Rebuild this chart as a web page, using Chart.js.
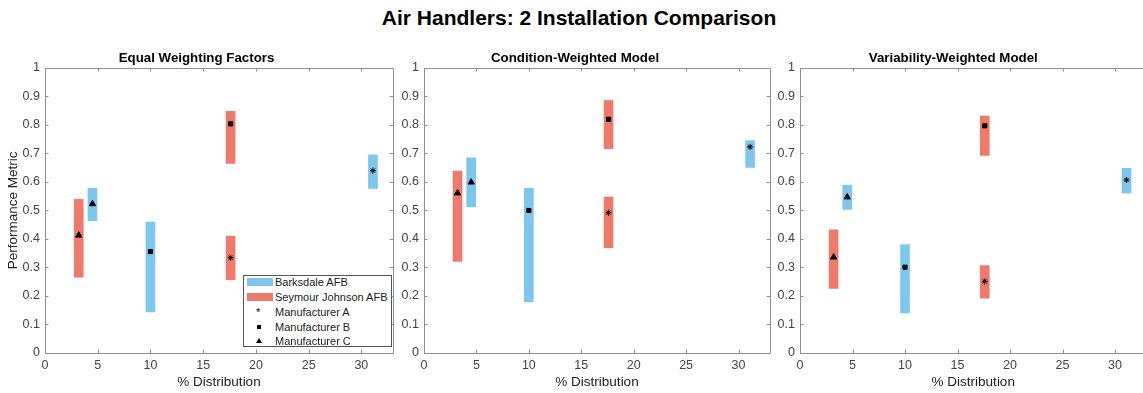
<!DOCTYPE html>
<html>
<head>
<meta charset="utf-8">
<script src="https://cdn.jsdelivr.net/npm/chart.js@4/dist/chart.umd.min.js"></script>
<style>
  html, body { margin: 0; padding: 0; background: #fff; overflow: hidden; width: 1143px; height: 393px; }
  body { position: relative; font-family: "Liberation Sans", Arial, Helvetica, sans-serif; }
  .panel { position: absolute; top: 40px; height: 353px; width: 400px; }
  #mainTitle { position: absolute; left: 0; width: 1158px; top: 6px; text-align: center; font-weight: bold; font-size: 21px; line-height: 24px; color: #000; }
  #legend { position: absolute; left: 243px; top: 275px; width: 147px; height: 70px; border: 1px solid #555; background: #fff; font-size: 11px; color: #222; z-index: 5; }
  .row { position: absolute; left: 0; height: 14px; line-height: 14px; width: 147px; }
  .row .lab { position: absolute; left: 31px; top: 0; white-space: nowrap; }
  .sw { position: absolute; left: 3px; top: 3px; width: 26px; height: 8px; }
  .mk { position: absolute; left: 16px; }
</style>
</head>
<body>
<div id="mainTitle">Air Handlers: 2 Installation Comparison</div>
<div class="panel" style="left:0px"><canvas id="c0"></canvas></div>
<div class="panel" style="left:380px"><canvas id="c1"></canvas></div>
<div class="panel" style="left:760px"><canvas id="c2"></canvas></div>
<div id="legend"></div>
<script>
// ---------------- DATA ----------------
const mainTitle = 'Air Handlers: 2 Installation Comparison';
const panelTitles = ['Equal Weighting Factors', 'Condition-Weighted Model', 'Variability-Weighted Model'];
const manufacturers = ['Manufacturer A', 'Manufacturer B', 'Manufacturer C'];
const installations = ['Barksdale AFB', 'Seymour Johnson AFB'];

// % Distribution for Manufacturer A, B, C at each installation
const barksdaleX = [31.1, 10.0, 4.5];
const seymourX   = [17.6, 17.6, 3.2];

// Equal Weighting Factors (A, B, C)
const eqBarksdaleLow  = [0.577, 0.144, 0.464];
const eqBarksdaleHigh = [0.695, 0.459, 0.578];
const eqBarksdaleMid  = [0.640, 0.356, 0.523];
const eqSeymourLow    = [0.257, 0.665, 0.266];
const eqSeymourHigh   = [0.410, 0.848, 0.539];
const eqSeymourMid    = [0.334, 0.804, 0.413];

// Condition-Weighted Model
const cwBarksdaleLow  = [0.651, 0.179, 0.513];
const cwBarksdaleHigh = [0.745, 0.578, 0.685];
const cwBarksdaleMid  = [0.723, 0.500, 0.599];
const cwSeymourLow    = [0.369, 0.717, 0.321];
const cwSeymourHigh   = [0.547, 0.886, 0.638];
const cwSeymourMid    = [0.492, 0.820, 0.561];

// Variability-Weighted Model
const vwBarksdaleLow  = [0.561, 0.141, 0.504];
const vwBarksdaleHigh = [0.648, 0.380, 0.588];
const vwBarksdaleMid  = [0.607, 0.301, 0.547];
const vwSeymourLow    = [0.192, 0.693, 0.227];
const vwSeymourHigh   = [0.307, 0.831, 0.432];
const vwSeymourMid    = [0.251, 0.797, 0.336];

const xTicks = [0, 5, 10, 15, 20, 25, 30];
const yTicks = [0, 0.1, 0.2, 0.3, 0.4, 0.5, 0.6, 0.7, 0.8, 0.9, 1];
const xLimits = [0, 33];
const yLimits = [0, 1];

// ---------------- STYLE ----------------
const FONT = '"Liberation Sans", Arial, Helvetica, sans-serif';
const BLUE = 'rgb(125,199,239)';
const RED = 'rgb(239,122,108)';
const AXIS = '#8f8f8f';
const TICKTXT = '#444444';
const markerStyles = ['star', 'rect', 'triangle'];
const markerRadius = [3, 2.9, 3.6];

const panels = [
  { bL: eqBarksdaleLow, bH: eqBarksdaleHigh, bM: eqBarksdaleMid, sL: eqSeymourLow, sH: eqSeymourHigh, sM: eqSeymourMid },
  { bL: cwBarksdaleLow, bH: cwBarksdaleHigh, bM: cwBarksdaleMid, sL: cwSeymourLow, sH: cwSeymourHigh, sM: cwSeymourMid },
  { bL: vwBarksdaleLow, bH: vwBarksdaleHigh, bM: vwBarksdaleMid, sL: vwSeymourLow, sH: vwSeymourHigh, sM: vwSeymourMid }
];
const layoutCfg = [
  { yWidth: 45, padRight: 7, yTitle: true },
  { yWidth: 44, padRight: 10, yTitle: false },
  { yWidth: 40, padRight: 13.5, yTitle: false }
];

const boxPlugin = {
  id: 'matlabBox',
  afterDatasetsDraw(chart) {
    const { ctx, chartArea: a, scales: { x, y } } = chart;
    ctx.save();
    ctx.strokeStyle = AXIS;
    ctx.lineWidth = 1;
    ctx.beginPath();
    ctx.rect(Math.round(a.left) + 0.5, Math.round(a.top) + 0.5, Math.round(a.right - a.left), Math.round(a.bottom - a.top));
    ctx.stroke();
    const tl = 3.5;
    ctx.beginPath();
    xTicks.forEach(v => {
      const px = Math.round(x.getPixelForValue(v)) + 0.5;
      ctx.moveTo(px, a.bottom); ctx.lineTo(px, a.bottom - tl);
      ctx.moveTo(px, a.top); ctx.lineTo(px, a.top + tl);
    });
    yTicks.forEach(v => {
      const py = Math.round(y.getPixelForValue(v)) + 0.5;
      ctx.moveTo(a.left, py); ctx.lineTo(a.left + tl, py);
      ctx.moveTo(a.right, py); ctx.lineTo(a.right - tl, py);
    });
    ctx.stroke();
    ctx.restore();
  }
};

function makeChart(i) {
  const p = panels[i];
  const L = layoutCfg[i];
  const barksdaleBars = barksdaleX.map((x, k) => ({ x: x, y: [p.bL[k], p.bH[k]] }));
  const seymourBars = seymourX.map((x, k) => ({ x: x, y: [p.sL[k], p.sH[k]] }));
  const markerSets = manufacturers.map((m, k) => ({
    type: 'scatter',
    label: m,
    data: [{ x: barksdaleX[k], y: p.bM[k] }, { x: seymourX[k], y: p.sM[k] }],
    pointStyle: markerStyles[k],
    pointRadius: markerRadius[k],
    backgroundColor: '#000',
    borderColor: '#000',
    borderWidth: 1,
    order: 0
  }));
  return new Chart(document.getElementById('c' + i), {
    type: 'bar',
    data: {
      datasets: [
        ...markerSets,
        { type: 'bar', label: installations[0], data: barksdaleBars, backgroundColor: BLUE, borderWidth: 0, barThickness: 9, grouped: false, order: 1 },
        { type: 'bar', label: installations[1], data: seymourBars, backgroundColor: RED, borderWidth: 0, barThickness: 9, grouped: false, order: 1 }
      ]
    },
    options: {
      responsive: true,
      maintainAspectRatio: false,
      animation: false,
      events: [],
      layout: { padding: { left: 0, right: L.padRight, top: 0, bottom: 0 } },
      plugins: {
        legend: { display: false },
        tooltip: { enabled: false },
        title: {
          display: true,
          text: panelTitles[i],
          color: '#000',
          font: { family: FONT, size: 13.3, weight: 'bold', lineHeight: 1.2 },
          padding: { top: 10, bottom: 2 }
        }
      },
      scales: {
        x: {
          type: 'linear',
          min: xLimits[0], max: xLimits[1],
          offset: false,
          grid: { display: false, drawTicks: false },
          border: { display: false },
          ticks: {
            stepSize: 5, includeBounds: false, color: TICKTXT, padding: 5,
            font: { family: FONT, size: 12.5 },
            maxRotation: 0,
            callback: v => String(v)
          },
          title: { display: true, text: '% Distribution', color: '#222', font: { family: FONT, size: 13.5, lineHeight: 1.2 }, padding: { top: 0, bottom: 2.9 } },
          afterFit: s => { s.height = 40; }
        },
        y: {
          type: 'linear',
          min: yLimits[0], max: yLimits[1],
          grid: { display: false, drawTicks: false },
          border: { display: false },
          ticks: {
            stepSize: 0.1, color: TICKTXT, padding: 5,
            font: { family: FONT, size: 12.5 },
            callback: v => String(+(+v).toFixed(1))
          },
          title: { display: L.yTitle, text: 'Performance Metric', color: '#222', font: { family: FONT, size: 13.5, lineHeight: 1.2 }, padding: { top: 5, bottom: 0 } },
          afterFit: s => { s.width = L.yWidth; }
        }
      }
    },
    plugins: [boxPlugin]
  });
}
[0, 1, 2].forEach(makeChart);

// ---------------- HTML legend (panel 1) ----------------
const legend = document.getElementById('legend');
const rowCenters = [6, 21, 36, 50.5, 65];
const legendItems = [
  { label: installations[0], kind: 'swatch', color: BLUE },
  { label: installations[1], kind: 'swatch', color: RED },
  { label: manufacturers[0], kind: 'star' },
  { label: manufacturers[1], kind: 'rect' },
  { label: manufacturers[2], kind: 'triangle' }
];
legendItems.forEach((it, k) => {
  const row = document.createElement('div');
  row.className = 'row';
  row.style.top = (rowCenters[k] - 7) + 'px';
  let mk = '';
  if (it.kind === 'swatch') mk = '<div class="sw" style="background:' + it.color + '"></div>';
  else if (it.kind === 'star') mk = '<div class="mk" style="left:12px;top:0;font-size:11px;line-height:14px;color:#000">*</div>';
  else if (it.kind === 'rect') mk = '<div class="mk" style="left:13px;top:5px;width:4px;height:4px;background:#000"></div>';
  else mk = '<div class="mk" style="left:12px;top:4px;width:0;height:0;border-left:3px solid transparent;border-right:3px solid transparent;border-bottom:5px solid #000"></div>';
  row.innerHTML = mk + '<span class="lab">' + it.label + '</span>';
  legend.appendChild(row);
});
</script>
</body>
</html>
